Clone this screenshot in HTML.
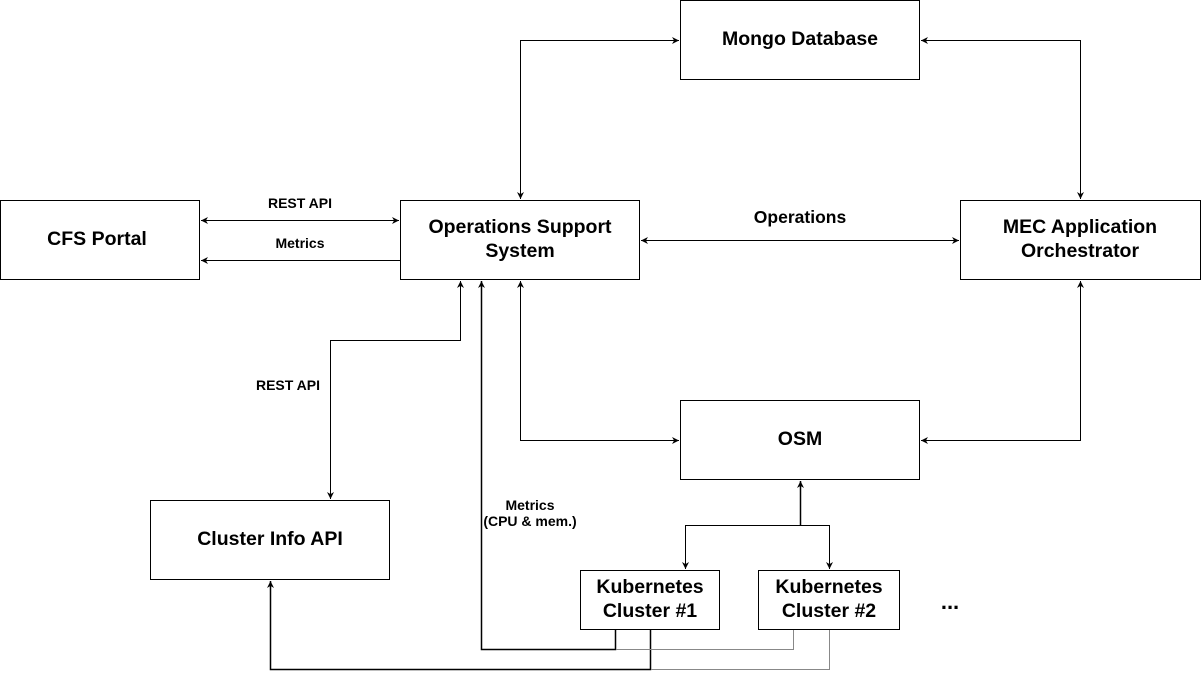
<!DOCTYPE html>
<html><head><meta charset="utf-8"><style>
html,body{margin:0;padding:0;background:#fff;}
svg{display:block;font-family:"Liberation Sans",Arial,sans-serif;font-weight:bold;}
</style></head><body>
<svg width="1202" height="679" viewBox="0 0 1202 679" xmlns="http://www.w3.org/2000/svg">
<defs>
<marker id="a" viewBox="0 0 10 10" refX="10" refY="5" markerWidth="7" markerHeight="7" orient="auto-start-reverse" markerUnits="userSpaceOnUse">
<path d="M0,0 L10,5 L0,10 L3,5 z" fill="#000"/></marker>
</defs>
<g fill="#fff" stroke="#000" stroke-width="1">
<rect x="680.5" y="0.5" width="239" height="79"/>
<rect x="0.5" y="200.5" width="199" height="79"/>
<rect x="400.5" y="200.5" width="239" height="79"/>
<rect x="960.5" y="200.5" width="240" height="79"/>
<rect x="680.5" y="400.5" width="239" height="79"/>
<rect x="150.5" y="500.5" width="239" height="79"/>
<rect x="580.5" y="570.5" width="139" height="59"/>
<rect x="758.5" y="570.5" width="141" height="59"/>
</g>
<g fill="none" stroke="#000" stroke-width="1">
<path d="M520.5,199 V40.5 H679" marker-start="url(#a)" marker-end="url(#a)"/>
<path d="M921,40.5 H1080.5 V199" marker-start="url(#a)" marker-end="url(#a)"/>
<path d="M201,220.5 H399" marker-start="url(#a)" marker-end="url(#a)"/>
<path d="M400,260.5 H201" marker-end="url(#a)"/>
<path d="M641,240.5 H959" marker-start="url(#a)" marker-end="url(#a)"/>
<path d="M520.5,281 V440.5 H679" marker-start="url(#a)" marker-end="url(#a)"/>
<path d="M921,440.5 H1080.5 V281" marker-start="url(#a)" marker-end="url(#a)"/>
<path d="M460.5,281 V340.5 H330.5 V499" marker-start="url(#a)" marker-end="url(#a)"/>
<path d="M800.5,525 V481" marker-end="url(#a)" stroke-width="1.5"/>
<path d="M800.5,525.5 H685.5 V569" marker-end="url(#a)"/>
<path d="M800.5,525.5 H829.5 V569" marker-end="url(#a)"/>
<path d="M615.5,630 V649.5 H481.5 V281" marker-end="url(#a)" stroke-width="1.5"/>
<path d="M650.5,630 V669.5 H270.5 V581" marker-end="url(#a)" stroke-width="1.5"/>
</g>
<g fill="none" stroke="#888" stroke-width="1">
<path d="M793.5,630 V649.5 H616"/>
<path d="M829.5,630 V669.5 H651"/>
</g>
<g text-anchor="middle" fill="#000">
<text x="800" y="45" font-size="19.5">Mongo Database</text>
<text x="97" y="245" font-size="19.5">CFS Portal</text>
<text x="520" y="233" font-size="19.5">Operations Support</text>
<text x="520" y="257" font-size="19.5">System</text>
<text x="1080" y="233" font-size="19.5">MEC Application</text>
<text x="1080" y="257" font-size="19.5">Orchestrator</text>
<text x="800" y="445" font-size="19.5">OSM</text>
<text x="270" y="545" font-size="19.5">Cluster Info API</text>
<text x="650" y="593" font-size="19.5">Kubernetes</text>
<text x="650" y="617" font-size="19.5">Cluster #1</text>
<text x="829" y="593" font-size="19.5">Kubernetes</text>
<text x="829" y="617" font-size="19.5">Cluster #2</text>
<text x="950" y="609" font-size="22">...</text>
<text x="300" y="208" font-size="14">REST API</text>
<text x="300" y="248" font-size="14">Metrics</text>
<text x="800" y="223" font-size="17.5">Operations</text>
<text x="288" y="390" font-size="14">REST API</text>
<text x="530" y="510" font-size="14">Metrics</text>
<text x="530" y="526" font-size="14">(CPU &amp; mem.)</text>
</g>
</svg>
</body></html>
